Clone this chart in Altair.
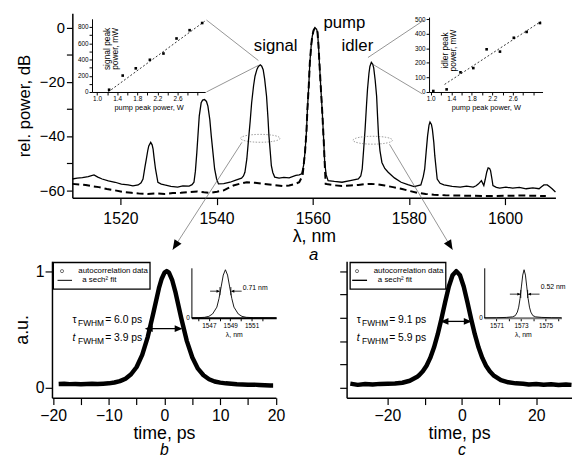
import altair as alt
import pandas as pd

FONT = "Liberation Sans"
W, H = 573, 451

# ---------------- (a) optical spectra ----------------
sol_nm = [1510.0, 1511.0, 1512.1, 1513.3, 1514.5, 1515.3, 1516.2, 1517.5, 1518.9, 1520.2, 1521.6, 1522.6,
          1523.7, 1524.3, 1524.7, 1525.1, 1525.4, 1525.7, 1525.9, 1526.3, 1526.6, 1526.8, 1527.0, 1527.3,
          1527.8, 1528.5, 1529.2, 1530.5, 1531.9, 1533.0, 1534.3, 1534.9, 1535.3, 1535.6, 1535.9, 1536.2,
          1536.4, 1536.8, 1537.1, 1537.5, 1537.9, 1538.2, 1538.6, 1538.9, 1539.3, 1539.6, 1540.0, 1540.4,
          1541.5, 1542.8, 1544.0, 1545.2, 1545.6, 1545.9, 1546.3, 1546.6, 1547.0, 1547.3, 1547.7, 1548.0,
          1548.4, 1548.7, 1549.1, 1549.4, 1549.7, 1550.0, 1550.4, 1550.7, 1550.9, 1551.2, 1551.4, 1551.7,
          1552.1, 1553.0, 1554.0, 1555.1, 1556.5, 1557.2, 1557.7, 1558.1, 1558.4, 1558.7, 1558.9, 1559.2,
          1559.4, 1559.7, 1559.9, 1560.2, 1560.5, 1560.8, 1561.0, 1561.2, 1561.4, 1561.7, 1562.0, 1562.3,
          1562.5, 1562.8, 1563.2, 1564.5, 1566.1, 1567.8, 1569.5, 1570.0, 1570.3, 1570.6, 1570.9, 1571.2,
          1571.4, 1571.7, 1571.9, 1572.2, 1572.5, 1572.7, 1573.0, 1573.3, 1573.5, 1573.7, 1574.0, 1574.4,
          1575.0, 1575.7, 1577.0, 1578.4, 1579.8, 1581.1, 1582.5, 1583.0, 1583.3, 1583.6, 1583.9, 1584.2,
          1584.4, 1584.7, 1584.9, 1585.2, 1585.4, 1585.7, 1585.9, 1586.5, 1587.3, 1589.0, 1590.7, 1592.0,
          1593.4, 1594.0, 1594.5, 1595.1, 1595.6, 1595.9, 1596.2, 1596.5, 1596.8, 1597.0, 1597.3, 1597.5,
          1598.2, 1598.9, 1600.2, 1601.6, 1603.0, 1604.4, 1605.8, 1607.1, 1607.6, 1608.1, 1608.8, 1609.3,
          1609.8, 1610.5]
sol_db = [-55.9, -55.6, -55.4, -55.0, -54.4, -55.2, -55.9, -56.6, -57.1, -57.8, -58.1, -58.4,
          -58.1, -57.3, -55.9, -51.5, -48.5, -45.3, -43.7, -42.4, -43.3, -44.9, -48.0, -52.2,
          -57.1, -57.8, -58.1, -58.6, -58.9, -58.4, -58.5, -58.0, -57.1, -53.0, -46.1, -38.0,
          -32.7, -27.8, -26.8, -26.6, -27.3, -29.0, -34.0, -40.0, -47.0, -52.2, -55.8, -57.7,
          -57.6, -57.1, -56.3, -55.6, -54.8, -53.4, -48.5, -42.4, -34.5, -27.8, -21.5, -18.0,
          -15.5, -14.4, -13.8, -14.3, -15.6, -19.0, -25.4, -33.5, -40.0, -46.5, -51.0, -53.5,
          -55.2, -55.6, -55.3, -55.5, -54.6, -54.4, -54.0, -51.0, -46.1, -38.5, -30.3, -21.0,
          -13.2, -6.5, -3.4, -1.0, -0.2, -0.6, -1.8, -6.5, -13.2, -22.5, -31.5, -42.0,
          -49.8, -54.3, -56.5, -56.8, -57.1, -56.5, -55.9, -54.8, -52.2, -45.0, -37.6, -28.5,
          -22.9, -17.0, -14.4, -12.9, -13.6, -15.0, -19.5, -25.4, -33.0, -40.0, -45.5, -49.8,
          -52.0, -53.4, -55.5, -57.1, -58.0, -58.7, -58.1, -55.0, -52.2, -46.0, -40.0, -36.0,
          -34.9, -35.8, -37.6, -42.5, -47.3, -52.5, -55.9, -57.5, -58.1, -58.6, -58.9, -58.5,
          -58.9, -58.4, -57.7, -56.5, -58.3, -56.0, -53.4, -51.8, -52.0, -52.8, -56.0, -58.3,
          -59.0, -59.3, -58.9, -59.3, -59.0, -59.5, -59.2, -59.5, -58.8, -58.1, -58.1, -58.8,
          -59.5, -60.7]
dash_nm = [1510.0, 1511.4, 1512.8, 1514.2, 1515.5, 1517.2, 1518.9, 1520.6, 1522.3, 1524.0, 1525.7, 1527.5,
           1529.2, 1530.9, 1532.6, 1534.3, 1536.0, 1537.4, 1538.7, 1540.1, 1541.5, 1542.5, 1543.5, 1544.9,
           1546.3, 1548.0, 1549.7, 1551.8, 1553.8, 1555.1, 1556.2, 1557.2, 1557.9, 1558.4, 1558.7, 1558.9,
           1559.2, 1559.4, 1559.7, 1559.9, 1560.2, 1560.5, 1560.8, 1561.0, 1561.2, 1561.4, 1561.7, 1562.0,
           1562.3, 1562.5, 1562.7, 1564.4, 1566.1, 1567.8, 1569.5, 1570.9, 1572.2, 1573.6, 1575.0, 1576.7,
           1578.4, 1580.1, 1581.8, 1583.5, 1585.2, 1587.6, 1590.0, 1593.5, 1596.9, 1600.3, 1603.7, 1606.1,
           1608.5]
dash_db = [-57.7, -57.9, -58.1, -58.6, -58.9, -59.6, -60.1, -60.7, -61.0, -61.3, -61.4, -61.2,
           -61.4, -61.1, -61.0, -60.7, -60.5, -60.8, -61.0, -60.6, -60.1, -59.2, -58.3, -57.6,
           -57.1, -57.3, -57.7, -58.1, -58.5, -58.3, -57.8, -57.1, -54.6, -46.1, -38.5, -30.3,
           -21.0, -13.2, -6.5, -3.4, -1.0, -0.2, -0.6, -1.8, -6.5, -13.2, -22.5, -31.5,
           -42.0, -50.0, -57.7, -58.2, -58.5, -58.3, -58.1, -57.8, -57.7, -57.9, -58.3, -58.9,
           -59.5, -60.3, -61.0, -61.4, -61.7, -61.9, -62.0, -62.1, -62.2, -62.1, -62.0, -62.1,
           -62.2]

peak_names = ["signal", "pump", "idler"]
peak_name_nm = [1552.3, 1566.6, 1569.3]
peak_name_db = [-6.7, 1.6, -6.7]

# insets of (a): peak power versus pump peak power
sig_pump_W = [1.24, 1.51, 1.77, 2.05, 2.32, 2.58, 2.84, 3.09]
sig_peak_mW = [28, 202, 291, 396, 473, 658, 760, 848]
sig_fit_W = [1.22, 3.14]
sig_fit_mW = [0, 870]
idl_pump_W = [1.05, 1.31, 1.58, 1.83, 2.09, 2.35, 2.62, 2.87, 3.13]
idl_peak_mW = [7, 18, 135, 164, 293, 277, 372, 412, 473]
idl_fit_W = [1.27, 3.15]
idl_fit_mW = [52, 484]

# ---------------- (b), (c) autocorrelation traces ----------------
b_t = [-19.0, -18.0, -17.0, -16.0, -15.0, -14.0, -13.0, -12.0, -11.0, -10.0, -9.0, -8.0, -7.0, -6.0,
       -5.0, -4.0, -3.0, -2.0, -1.0, -0.5, 0.0, 0.4, 0.8, 1.4, 2.0, 3.0, 4.0, 5.0, 6.0, 7.0, 8.0,
       9.0, 10.0, 11.0, 12.0, 13.0, 14.0, 15.0, 16.0, 17.0, 18.0, 19.0, 19.5]
b_v = [0.032, 0.034, 0.031, 0.033, 0.030, 0.032, 0.034, 0.033, 0.035, 0.038, 0.045, 0.057, 0.078, 0.116,
       0.178, 0.282, 0.437, 0.641, 0.854, 0.935, 0.987, 1.0, 0.987, 0.920, 0.813, 0.598, 0.402, 0.259,
       0.164, 0.107, 0.073, 0.054, 0.044, 0.038, 0.034, 0.030, 0.028, 0.026, 0.027, 0.024, 0.022, 0.020,
       0.020]
c_t = [-30.0, -28.0, -26.0, -24.0, -22.0, -20.0, -18.0, -16.0, -14.0, -12.0, -11.5, -10.5, -9.5, -8.5,
       -7.5, -6.5, -5.5, -4.5, -3.5, -2.5, -1.5, -0.5, 0.5, 1.5, 2.5, 3.5, 4.5, 5.5, 6.5, 7.5, 8.5,
       10.5, 12.5, 14.5, 16.5, 18.0, 20.0, 22.0, 24.0, 26.0, 28.0, 29.5]
c_v = [0.035, 0.025, 0.032, 0.028, 0.033, 0.034, 0.036, 0.043, 0.060, 0.094, 0.107, 0.141, 0.189, 0.256,
       0.345, 0.457, 0.590, 0.734, 0.868, 0.964, 1.0, 0.964, 0.868, 0.734, 0.590, 0.457, 0.345, 0.256,
       0.189, 0.141, 0.107, 0.066, 0.047, 0.038, 0.034, 0.028, 0.032, 0.026, 0.030, 0.024, 0.028, 0.025]
# spectra insets of (b) and (c)
bi_nm = [1545.4, 1546.0, 1546.6, 1547.0, 1547.35, 1547.75, 1547.95, 1548.15, 1548.35, 1548.55,
         1548.75, 1548.95, 1549.15, 1549.35, 1549.75, 1550.1, 1550.5, 1551.2, 1553.3]
bi_v = [0.0, 0.003, 0.01, 0.03, 0.08, 0.222, 0.40, 0.642, 0.889, 1.0,
        0.889, 0.642, 0.40, 0.222, 0.08, 0.03, 0.01, 0.003, 0.0]
ci_nm = [1570.0, 1571.0, 1571.8, 1572.3, 1572.53, 1572.7, 1572.81, 1572.92, 1573.03, 1573.14, 1573.25,
         1573.36, 1573.47, 1573.58, 1573.69, 1573.8, 1573.97, 1574.2, 1574.7, 1575.5, 1576.3]
ci_v = [0.0, 0.002, 0.008, 0.02, 0.044, 0.119, 0.222, 0.40, 0.642, 0.889, 1.0,
        0.889, 0.642, 0.40, 0.222, 0.119, 0.044, 0.02, 0.008, 0.002, 0.0]

# tick values
spec_x_ticks = [1520, 1540, 1560, 1580, 1600]
spec_y_ticks = [-60, -50, -40, -30, -20, -10, 0]
sig_y_ticks = [0, 100, 200, 300, 400, 500, 600, 700, 800]
idl_y_ticks = [0, 100, 200, 300, 400, 500]
pump_ticks = [1.0, 1.2, 1.4, 1.6, 1.8, 2.0, 2.2, 2.4, 2.6, 2.8, 3.0]
b_x_ticks = [-20, -15, -10, -5, 0, 5, 10, 15, 20]
c_x_ticks = [-20, -10, 0, 10, 20]
au_ticks = [0, 0.2, 0.4, 0.6, 0.8, 1.0]
bi_ticks = [1546, 1547, 1548, 1549, 1550, 1551, 1552]
ci_ticks = [1571, 1572, 1573, 1574, 1575, 1576]


# ---------------- helpers ----------------
def sc(dom, rng):
    return alt.Scale(domain=dom, range=rng, nice=False, zero=False)


def axis(orient, offset, values, **kw):
    base = dict(orient=orient, offset=offset, values=values, grid=False,
                domainColor="black", tickColor="black", labelColor="black",
                titleColor="black", labelFont=FONT, titleFont=FONT,
                titleFontWeight="normal", labelFlush=False, labelOverlap=False,
                labelBound=False, title=None)
    base.update(kw)
    return alt.Axis(**base)


def enc(xs, ys, xa=None, ya=None):
    return dict(x=alt.X("x:Q", scale=xs, axis=xa), y=alt.Y("y:Q", scale=ys, axis=ya))


def segs(xs, ys, x, y, x2, y2, color="black", width=1.0, dash=None):
    kw = dict(color=color, strokeWidth=width)
    if dash:
        kw["strokeDash"] = dash
    df = pd.DataFrame({"x": x, "y": y, "x2": x2, "y2": y2})
    return alt.Chart(df).mark_rule(**kw).encode(
        x2=alt.X2("x2:Q"), y2=alt.Y2("y2:Q"), **enc(xs, ys))


def texts(xs, ys, x, y, labels, size, align="center", angle=0, dx=0, dy=0, style="normal"):
    df = pd.DataFrame({"x": x, "y": y, "label": labels})
    return alt.Chart(df).mark_text(font=FONT, color="black", fontSize=size, align=align,
                                   baseline="middle", angle=angle, dx=dx, dy=dy,
                                   fontStyle=style).encode(text="label:N", **enc(xs, ys))


ARROW = "M0,0L-0.42,-1L0.42,-1Z"
ELLIPSE = ("M-1,0C-1,-0.11,-0.55,-0.2,0,-0.2C0.55,-0.2,1,-0.11,1,0"
           "C1,0.11,0.55,0.2,0,0.2C-0.55,0.2,-1,0.11,-1,0Z")


def heads(xs, ys, x, y, ang, size):
    df = pd.DataFrame({"x": x, "y": y, "ang": ang})
    return alt.Chart(df).mark_point(shape=ARROW, filled=True, color="black", opacity=1,
                                    size=size, strokeWidth=0).encode(
        angle=alt.Angle("ang:Q", scale=None), **enc(xs, ys))


def sub_text(xs, ys, x, y, first, val, size=10.5, first_style="normal"):
    return [
        texts(xs, ys, [x], [y], [first], size, align="left", style=first_style),
        texts(xs, ys, [x], [y], ["FWHM"], 8.5, align="left", dx=5.5, dy=3),
        texts(xs, ys, [x], [y], [val], size, align="left", dx=33),
    ]


# ---------------- scales (pixel ranges place each panel) ----------------
xA = sc([1510, 1610.5], [65.25, 555.2]); yA = sc([-62.8, 5.2], [189.2, 2.2])
xB = sc([0.9, 3.15], [85.2, 200.0]); yB = sc([0, 900], [82, 7.75])
xC = sc([0.967, 3.18], [427, 542.1]); yC = sc([0, 514], [82, 6])
xD = sc([-20.2, 20], [44.6, 271.7]); yD = sc([-0.085, 1.085], [392, 253.6])
xE = sc([1545.37, 1553.3], [186, 272]); yE = sc([0, 1.04], [311, 260.3])
xF = sc([-31, 29.5], [343.4, 571.5]); yF = sc([-0.085, 1.085], [392, 253.6])
xG = sc([1570.0, 1576.3], [483, 561.3]); yG = sc([0, 1.04], [311, 260.3])

layers = []

# ---------------- (a) main spectrum ----------------
axA_y = axis("left", -65.25, spec_y_ticks, format="d",
             labelExpr="datum.value % 20 == 0 ? datum.label : ''",
             tickSize=6, labelFontSize=15, labelPadding=2, domainWidth=1.5, tickWidth=1.2,
             title="rel. power, dB", titleFontSize=17, titlePadding=6)
axA_x = axis("bottom", 189.2 - H, spec_x_ticks, format="d", tickSize=7, labelFontSize=16,
             labelPadding=6, domainWidth=1.5, tickWidth=1.2,
             title="λ, nm", titleFontSize=18, titlePadding=1)

layers.append(alt.Chart(pd.DataFrame({"x": sol_nm, "y": sol_db})).mark_line(
    color="black", strokeWidth=1.3).encode(**enc(xA, yA, axA_x, axA_y)))
layers.append(alt.Chart(pd.DataFrame({"x": dash_nm, "y": dash_db})).mark_line(
    color="black", strokeWidth=2, strokeDash=[7, 4]).encode(**enc(xA, yA)))
layers.append(segs(xA, yA, [1537.9, 1537.9, 1583.2, 1582.8], [2.73, -23.8, 2.73, -24.5],
                   [1548.7, 1548.7, 1571.5, 1572.5], [-12.2, -14.0, -11.1, -13.6],
                   color="#666666", width=0.7))
layers.append(alt.Chart(pd.DataFrame({"x": [1549.1, 1572.5], "y": [-40.9, -41.6]})).mark_point(
    shape=ELLIPSE, size=1600, filled=False, color="#555555", strokeWidth=0.8,
    strokeDash=[1.5, 1.5]).encode(**enc(xA, yA)))
layers.append(segs(xA, yA, [1545.27, 1575.98], [-42.4, -43.1], [1530.87, 1589.1], [-82.0, -82.0],
                   color="#666666", width=0.7))
layers.append(heads(xA, yA, [1530.87, 1589.1], [-82.0, -82.0], [32.7, 329.1], 400))
layers.append(texts(xA, yA, peak_name_nm, peak_name_db, peak_names, 17))
layers.append(texts(xA, yA, [1560.2], [-84.0], ["a"], 17, style="italic"))

# ---------------- (a) inset: signal ----------------
axB_y = axis("left", -85.2, sig_y_ticks, format="d",
             labelExpr="datum.value % 200 == 0 ? datum.label : ''",
             tickSize=3, labelFontSize=6.5, labelPadding=1)
pump_label_expr = ("datum.value==1||datum.value==1.4||datum.value==1.8||datum.value==2.2||"
                   "datum.value==2.6 ? format(datum.value, '.1f') : ''")
axB_x = axis("bottom", 82 - H, pump_ticks, labelExpr=pump_label_expr, tickSize=3,
             labelFontSize=6.5, labelPadding=1, title="pump peak power, W",
             titleFontSize=7.5, titlePadding=1)
layers.append(alt.Chart(pd.DataFrame({"x": sig_pump_W, "y": sig_peak_mW})).mark_point(
    shape="square", filled=True, color="black", size=7, opacity=1).encode(**enc(xB, yB, axB_x, axB_y)))
layers.append(alt.Chart(pd.DataFrame({"x": sig_fit_W, "y": sig_fit_mW})).mark_line(
    color="black", strokeWidth=0.8, strokeDash=[2, 2]).encode(**enc(xB, yB)))
layers.append(texts(xB, yB, [1.2, 1.36], [530, 530], ["signal peak", "power, mW"], 8.5, angle=270))

# ---------------- (a) inset: idler ----------------
axC_y = axis("left", -427, idl_y_ticks, format="d", tickSize=3, labelFontSize=6.5, labelPadding=1)
axC_x = axis("bottom", 82 - H, pump_ticks, labelExpr=pump_label_expr, tickSize=3,
             labelFontSize=6.5, labelPadding=1, title="pump peak power, W",
             titleFontSize=7.5, titlePadding=1)
layers.append(alt.Chart(pd.DataFrame({"x": idl_pump_W, "y": idl_peak_mW})).mark_point(
    shape="square", filled=True, color="black", size=7, opacity=1).encode(**enc(xC, yC, axC_x, axC_y)))
layers.append(alt.Chart(pd.DataFrame({"x": idl_fit_W, "y": idl_fit_mW})).mark_line(
    color="black", strokeWidth=0.8, strokeDash=[2, 2]).encode(**enc(xC, yC)))
layers.append(texts(xC, yC, [1.28, 1.44], [285, 285], ["idler peak", "power, mW"], 8.5, angle=270))

# ---------------- (b) autocorrelation, signal ----------------
axD_y = axis("left", -44.6, au_ticks, format="d",
             labelExpr="datum.value == 0 || datum.value == 1 ? datum.label : ''",
             tickSize=7, labelFontSize=16, labelPadding=1, domainWidth=1.5, tickWidth=1.2,
             title="a.u.", titleFontSize=18, titlePadding=4)
axD_x = axis("bottom", 392 - H, b_x_ticks, format="d",
             labelExpr="datum.value % 10 == 0 ? datum.label : ''",
             tickSize=7, labelFontSize=16, labelPadding=3, domainWidth=1.5, tickWidth=1.2,
             title="time, ps", titleFontSize=18, titlePadding=1)
layers.append(alt.Chart(pd.DataFrame({"x": b_t, "y": b_v})).mark_line(
    color="black", strokeWidth=4.5, strokeJoin="round").encode(**enc(xD, yD, axD_x, axD_y)))
layers.append(alt.Chart(pd.DataFrame({"x": [-19.95], "x2": [-2.6], "y": [1.074], "y2": [0.845]})).mark_rect(
    fillOpacity=0, stroke="black", strokeWidth=1.3).encode(
    x2=alt.X2("x2:Q"), y2=alt.Y2("y2:Q"), **enc(xD, yD)))
layers.append(alt.Chart(pd.DataFrame({"x": [-18.4], "y": [1.0]})).mark_point(
    shape="circle", size=10, filled=False, color="black", strokeWidth=0.8).encode(**enc(xD, yD)))
layers.append(segs(xD, yD, [-19.2], [0.921], [-16.6], [0.921], width=1.0))
layers.append(texts(xD, yD, [-15.47, -14.76], [1.0, 0.921], ["autocorrelation data", "a sech² fit"],
                    8, align="left"))
layers += sub_text(xD, yD, -16.5, 0.577, "τ", "= 6.0 ps")
layers += sub_text(xD, yD, -16.5, 0.423, "t", "= 3.9 ps", first_style="italic")
layers.append(segs(xD, yD, [-3.0], [0.507], [2.7], [0.507], width=1.3))
layers.append(heads(xD, yD, [-3.54, 3.24], [0.507, 0.507], [90, 270], 256))
layers.append(texts(xD, yD, [0.0], [-0.535], ["b"], 16, style="italic"))

# ---------------- (b) inset spectrum ----------------
axE_y = axis("left", -186, [0], format="d", tickSize=0, labelFontSize=6.5, labelPadding=2)
axE_x = axis("bottom", 311 - H, bi_ticks, format="d",
             labelExpr="datum.value % 2 == 1 ? datum.label : ''",
             tickSize=3, labelFontSize=6.5, labelPadding=2, domainWidth=2,
             title="λ, nm", titleFontSize=7, titlePadding=1)
layers.append(alt.Chart(pd.DataFrame({"x": bi_nm, "y": bi_v})).mark_line(
    color="black", strokeWidth=0.9).encode(**enc(xE, yE, axE_x, axE_y)))
layers.append(segs(xE, yE, [1547.12, 1550.07], [0.554, 0.554], [1547.9, 1549.2], [0.554, 0.554], width=0.8))
layers.append(segs(xE, yE, [1548.04, 1549.06], [0.47, 0.47], [1548.04, 1549.06], [0.64, 0.64], width=0.8))
layers.append(heads(xE, yE, [1548.04, 1549.06], [0.554, 0.554], [270, 90], 49))
layers.append(texts(xE, yE, [1550.17], [0.62], ["0.71 nm"], 7, align="left"))

# ---------------- (c) autocorrelation, idler ----------------
axF_y = axis("left", -343.4, au_ticks, labels=False, tickSize=7, domainWidth=1.5, tickWidth=1.2)
axF_x = axis("bottom", 392 - H, c_x_ticks, format="d",
             labelExpr="datum.value % 20 == 0 ? datum.label : ''",
             tickSize=7, labelFontSize=16, labelPadding=3, domainWidth=1.5, tickWidth=1.2,
             title="time, ps", titleFontSize=18, titlePadding=1)
layers.append(alt.Chart(pd.DataFrame({"x": c_t, "y": c_v})).mark_line(
    color="black", strokeWidth=4.5, strokeJoin="round").encode(**enc(xF, yF, axF_x, axF_y)))
layers.append(alt.Chart(pd.DataFrame({"x": [-30.05], "x2": [-4.32], "y": [1.074], "y2": [0.845]})).mark_rect(
    fillOpacity=0, stroke="black", strokeWidth=1.3).encode(
    x2=alt.X2("x2:Q"), y2=alt.Y2("y2:Q"), **enc(xF, yF)))
layers.append(alt.Chart(pd.DataFrame({"x": [-28.2], "y": [1.0]})).mark_point(
    shape="circle", size=10, filled=False, color="black", strokeWidth=0.8).encode(**enc(xF, yF)))
layers.append(segs(xF, yF, [-29.5], [0.921], [-25.5], [0.921], width=1.4))
layers.append(texts(xF, yF, [-23.7, -22.6], [1.0, 0.921], ["autocorrelation data", "a sech² fit"],
                    8, align="left"))
layers += sub_text(xF, yF, -28.3, 0.577, "τ", "= 9.1 ps")
layers += sub_text(xF, yF, -28.3, 0.423, "t", "= 5.9 ps", first_style="italic")
layers.append(segs(xF, yF, [-5.0], [0.569], [1.9], [0.569], width=1.3))
layers.append(heads(xF, yF, [-5.73, 2.65], [0.569, 0.569], [90, 270], 256))
layers.append(texts(xF, yF, [0.0], [-0.535], ["c"], 16, style="italic"))

# ---------------- (c) inset spectrum ----------------
axG_y = axis("left", -483, [0], format="d", tickSize=0, labelFontSize=6.5, labelPadding=2)
axG_x = axis("bottom", 311 - H, ci_ticks, format="d",
             labelExpr="datum.value % 2 == 1 ? datum.label : ''",
             tickSize=3, labelFontSize=6.5, labelPadding=2, domainWidth=2, domainColor="#777777",
             title="λ, nm", titleFontSize=7, titlePadding=1)
layers.append(alt.Chart(pd.DataFrame({"x": ci_nm, "y": ci_v})).mark_line(
    color="black", strokeWidth=0.9).encode(**enc(xG, yG, axG_x, axG_y)))
layers.append(segs(xG, yG, [1572.09, 1574.51], [0.492, 0.492], [1572.9, 1573.62], [0.492, 0.492], width=0.8))
layers.append(segs(xG, yG, [1572.98, 1573.54], [0.41, 0.41], [1572.98, 1573.54], [0.58, 0.58], width=0.8))
layers.append(heads(xG, yG, [1572.98, 1573.54], [0.492, 0.492], [270, 90], 49))
layers.append(texts(xG, yG, [1574.6], [0.63], ["0.52 nm"], 7, align="left"))

chart = alt.layer(*layers).resolve_scale(
    x="independent", y="independent"
).properties(
    width=W, height=H, autosize="none", padding=0, background="white"
).configure_view(stroke=None)

chart.save("out.html", embed_options={"renderer": "svg", "actions": False})
